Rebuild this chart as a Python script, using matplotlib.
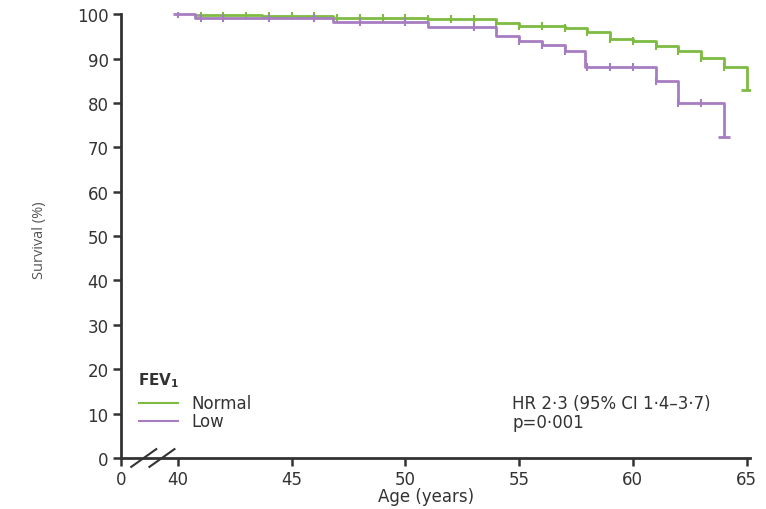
import numpy as np
import matplotlib.pyplot as plt
from matplotlib.lines import Line2D

plt.rcParams['font.family'] = ['DejaVu Sans']

# Kaplan-Meier steps: age at each drop and survival (%) after it
normal_age = [40.75, 43.7, 46.8, 51.0, 54.0, 55.0, 57.0, 58.0, 59.0, 60.0, 61.0, 62.0, 63.0, 64.0, 65.0]
normal_surv = [99.9, 99.6, 99.2, 98.9, 98.1, 97.4, 96.8, 95.9, 94.5, 93.9, 92.8, 91.7, 90.2, 88.1, 82.9]
low_age = [39.8, 40.75, 46.8, 51.0, 54.0, 55.0, 56.0, 57.0, 57.9, 61.0, 62.0, 64.0]
low_surv = [100.0, 99.1, 98.3, 97.2, 95.0, 94.0, 93.0, 91.7, 88.1, 85.0, 80.0, 72.4]

# censoring marks
normal_cens = [41, 42, 43, 44, 45, 46, 47, 48, 49, 50, 51, 52, 53, 54, 55, 56, 57, 58, 59, 60, 61, 62, 63, 64]
low_cens = [40, 41, 42, 44, 46, 48, 50, 53, 55, 56, 57, 58, 59, 60, 61, 62, 63]

x_ticks = [40, 45, 50, 55, 60, 65]
y_ticks = [0, 10, 20, 30, 40, 50, 60, 70, 80, 90, 100]

GREEN = '#7dbb42'
PURPLE = '#a77dc2'
AXC = '#333333'

# the "0" on the age axis sits before the break
X_ZERO = 37.5


def surv_at(ages, survs, t):
    i = np.searchsorted(ages, t, side='right') - 1
    return survs[max(i, 0)]


fig = plt.figure(figsize=(7.66, 5.10), dpi=100)
ax = fig.add_axes([121 / 766, 51 / 510, (750 - 121) / 766, (459 - 13) / 510])

for ages, survs, cens, col in [(normal_age, normal_surv, normal_cens, GREEN),
                               (low_age, low_surv, low_cens, PURPLE)]:
    ax.step(ages, survs, where='post', color=col, lw=2, solid_capstyle='butt')
    cy = [surv_at(ages, survs, t) for t in cens]
    ax.plot(cens, cy, ls='none', marker='|', ms=6, mew=1.5, color=col)
    ax.plot(ages[-1], survs[-1], marker='_', ms=9, mew=2, color=col)

ax.set_xlim(X_ZERO, 65.15)
ax.set_ylim(0, 100.5)
ax.set_xticks([X_ZERO] + x_ticks)
ax.set_xticklabels(['0'] + [str(v) for v in x_ticks])
ax.set_yticks(y_ticks)

for side in ['top', 'right']:
    ax.spines[side].set_visible(False)
for side in ['left', 'bottom']:
    ax.spines[side].set_color(AXC)
    ax.spines[side].set_linewidth(2)
ax.spines['left'].set_bounds(0, 100)
ax.tick_params(axis='both', colors=AXC, width=1.8, length=6, labelsize=12, pad=3)

# axis break slashes
for xb in [38.5, 39.3]:
    ax.plot([xb - 0.55, xb + 0.55], [-2.0, 2.0], color=AXC, lw=1.5, clip_on=False)

ax.text(50.9, -8.6, 'Age (years)', fontsize=12, color=AXC, ha='center', va='center')
fig.text(40 / 766, 1 - 240 / 510, 'Survival (%)', rotation=90, fontsize=10.5,
         color='#555555', ha='center', va='center', family='Open Sans')

# legend
ax.text(38.25, 17.6, 'FEV$_\\mathregular{1}$', fontsize=11, fontweight='bold',
        color=AXC, va='center')
ax.add_line(Line2D([38.3, 40.0], [12.4, 12.4], color=GREEN, lw=1.5))
ax.add_line(Line2D([38.3, 40.0], [8.3, 8.3], color=PURPLE, lw=1.5))
ax.text(40.6, 12.4, 'Normal', fontsize=12, color=AXC, va='center')
ax.text(40.6, 8.3, 'Low', fontsize=12, color=AXC, va='center')

ax.text(54.7, 12.4, 'HR 2·3 (95% CI 1·4–3·7)', fontsize=12, color=AXC, va='center')
ax.text(54.7, 8.0, 'p=0·001', fontsize=12, color=AXC, va='center')

fig.savefig('out.png', dpi=100)
